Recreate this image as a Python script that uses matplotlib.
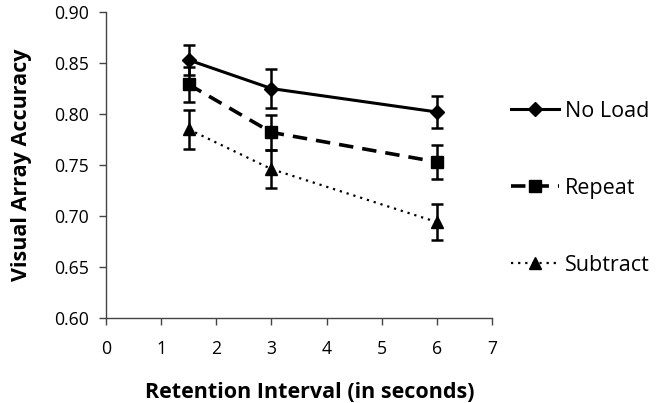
import matplotlib
matplotlib.use("Agg")
import matplotlib.pyplot as plt

x = [1.5, 3, 6]
no_load = [0.853, 0.825, 0.802]
no_load_err = [0.015, 0.019, 0.016]
repeat = [0.829, 0.782, 0.753]
repeat_err = [0.017, 0.017, 0.017]
subtract = [0.785, 0.746, 0.694]
subtract_err = [0.019, 0.019, 0.018]

xticks = [0, 1, 2, 3, 4, 5, 6, 7]
yticks = [0.60, 0.65, 0.70, 0.75, 0.80, 0.85, 0.90]

plt.rcParams['font.family'] = ['Open Sans', 'DejaVu Sans']

fig = plt.figure(figsize=(6.58, 4.03), dpi=100)
ax = fig.add_axes([0.161, 0.211, 0.587, 0.759])

ax.errorbar(x, no_load, yerr=no_load_err, color='black', lw=2.2, ls='-',
            marker='D', ms=7, capsize=4, elinewidth=1.8, capthick=1.8, label='No Load')
ax.errorbar(x, repeat, yerr=repeat_err, color='black', lw=2.6, ls=(0, (4, 2.5)),
            marker='s', ms=9, capsize=4, elinewidth=1.8, capthick=1.8, label='Repeat')
ax.errorbar(x, subtract, yerr=subtract_err, color='black', lw=1.6, ls=(0, (1, 2.2)),
            marker='^', ms=8, capsize=4, elinewidth=1.8, capthick=1.8, label='Subtract')

ax.set_xlim(0, 7)
ax.set_ylim(0.60, 0.90)
ax.set_xticks(xticks)
ax.set_yticks(yticks)
ax.set_yticklabels([f"{v:.2f}" for v in yticks])
for s in ['top', 'right']:
    ax.spines[s].set_visible(False)
for s in ['left', 'bottom']:
    ax.spines[s].set_color('#444444')
    ax.spines[s].set_linewidth(1.0)
ax.tick_params(direction='out', length=5, width=1, color='#444444', labelsize=12.7)
ax.tick_params(axis='x', pad=11)
ax.tick_params(axis='y', pad=7)

ax.set_xlabel('Retention Interval (in seconds)', fontsize=15.5, fontweight='bold', labelpad=17)
ax.xaxis.label.set_x(0.528)
ax.set_ylabel('Visual Array Accuracy', fontsize=15.5, fontweight='bold', labelpad=16)

handles, labels = ax.get_legend_handles_labels()
handles = [h[0] for h in handles]
leg = fig.legend(handles, labels, loc='center left', bbox_to_anchor=(0.777, 0.533),
                 frameon=False, fontsize=15.5, labelspacing=2.6, handlelength=2.2,
                 handletextpad=0.3, borderpad=0, borderaxespad=0)

fig.savefig('out.png', dpi=100)
